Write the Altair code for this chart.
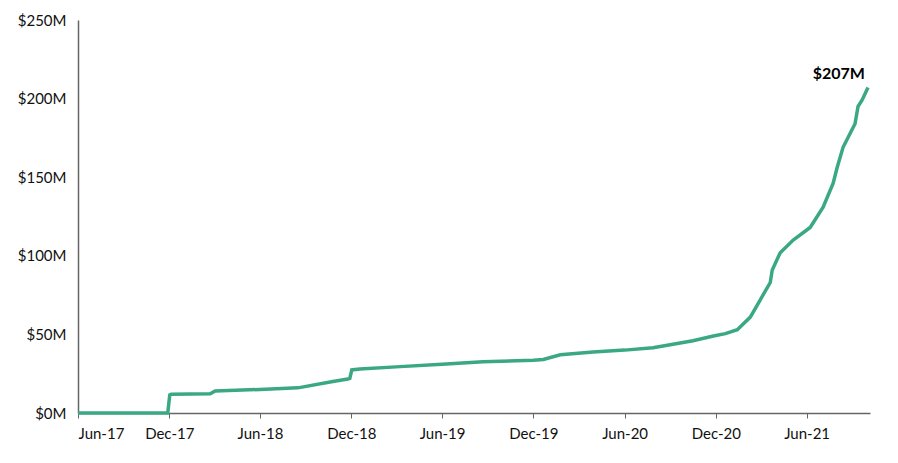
import altair as alt
import pandas as pd

dates = [
    "2017-06-01", "2017-11-28", "2017-12-02", "2017-12-05", "2018-02-21", "2018-03-03",
    "2018-06-01", "2018-08-16", "2018-10-25", "2018-11-24", "2018-11-28", "2018-12-02",
    "2018-12-18", "2019-03-09", "2019-06-01", "2019-08-22", "2019-12-01", "2019-12-21",
    "2020-01-24", "2020-03-30", "2020-06-01", "2020-07-28", "2020-10-16", "2020-11-26",
    "2020-12-20", "2021-01-13", "2021-02-08", "2021-02-28", "2021-03-20", "2021-03-24",
    "2021-04-09", "2021-05-05", "2021-06-08", "2021-07-04", "2021-07-24", "2021-08-01",
    "2021-08-13", "2021-09-06", "2021-09-12", "2021-09-20", "2021-10-02",
]
values_m = [
    0, 0, 11.5, 12, 12.2, 14,
    15, 16, 20, 21.6, 22, 27.4,
    28, 29.5, 31, 32.6, 33.5, 34,
    37, 38.8, 40, 41.5, 46, 49,
    50.5, 53, 61, 72, 83, 91,
    102, 110, 118, 131, 146, 156,
    169, 184, 195, 199, 207,
]

tick_dates = ["2017-06-01", "2017-12-01", "2018-06-01", "2018-12-01", "2019-06-01",
              "2019-12-01", "2020-06-01", "2020-12-01", "2021-06-01"]
y_ticks_m = [0, 50, 100, 150, 200, 250]
label_text = "$207M"

df = pd.DataFrame({"date": dates, "value": [v * 1e6 for v in values_m]})
last = df.tail(1).assign(label=label_text)

FONT = "Lato"
GREEN = "#3aa982"

def dt(s):
    y, m, d = map(int, s.split("-"))
    return alt.DateTime(year=y, month=m, date=d, utc=True)

x = alt.X(
    "date:T",
    scale=alt.Scale(type="utc", domain=[dt("2017-06-01"), dt("2021-10-06")], nice=False),
    axis=alt.Axis(
        values=[dt(s) for s in tick_dates],
        labelExpr="utcFormat(datum.value, '%b-%y')",
        title=None, grid=False, domainColor="#666666", tickColor="#666666",
        tickSize=5, labelPadding=8, labelFontSize=15, labelColor="#111111",
        labelFont=FONT, domainWidth=1.5,
    ),
)
y = alt.Y(
    "value:Q",
    scale=alt.Scale(domain=[0, 250e6], nice=False),
    axis=alt.Axis(
        values=[v * 1e6 for v in y_ticks_m],
        labelExpr="'$' + format(datum.value / 1e6, 'd') + 'M'",
        title=None, grid=False, ticks=False, domainColor="#666666",
        labelPadding=12, labelFontSize=15, labelColor="#111111", labelFont=FONT,
        domainWidth=1.5,
    ),
)

line = alt.Chart(df).mark_line(color=GREEN, strokeWidth=3.5, interpolate="linear").encode(x=x, y=y)
text = alt.Chart(last).mark_text(
    align="right", baseline="bottom", dx=-3, dy=-6, font=FONT, fontSize=16,
    fontWeight="bold", color="#000000",
).encode(x=x, y=y, text="label:N")

chart = (line + text).properties(
    width=792, height=393,
    autosize=alt.AutoSizeParams(type="none"),
    padding={"left": 70, "top": 12, "right": 20, "bottom": 40},
).configure(background="white").configure_view(stroke=None)

chart.save("out.html", embed_options={"renderer": "svg", "actions": False})
